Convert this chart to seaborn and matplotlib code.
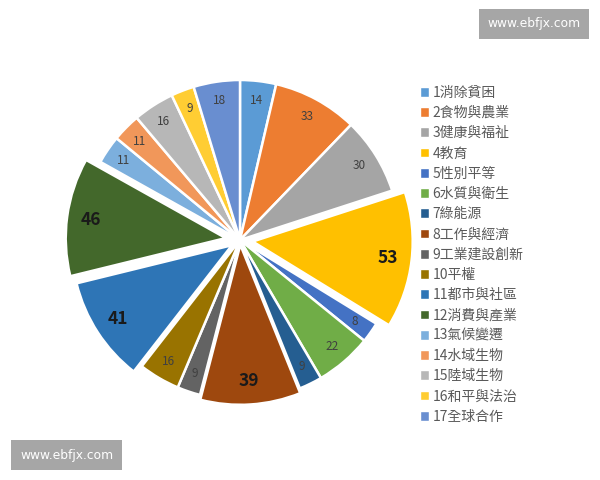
import numpy as np
import matplotlib
matplotlib.use("Agg")
import matplotlib.pyplot as plt
import seaborn as sns
from matplotlib.patches import Patch

# SDG goals and counts
goals = ["1消除貧困", "2食物與農業", "3健康與福祉", "4教育", "5性別平等",
         "6水質與衛生", "7綠能源", "8工作與經濟", "9工業建設創新", "10平權",
         "11都市與社區", "12消費與產業", "13氣候變遷", "14水域生物",
         "15陸域生物", "16和平與法治", "17全球合作"]
counts = [14, 33, 30, 53, 8, 22, 9, 39, 9, 16, 41, 46, 11, 11, 16, 9, 18]
colors = ["#5B9BD5", "#ED7D31", "#A5A5A5", "#FFC000", "#4472C4", "#70AD47",
          "#255E91", "#9E480E", "#636363", "#997300", "#2E75B6", "#43682B",
          "#7CAFDD", "#F1975A", "#B7B7B7", "#FFCD33", "#698ED0"]
explode = [0, 0, 0, 0.08, 0, 0, 0, 0.03, 0, 0, 0.06, 0.09, 0, 0, 0, 0, 0]
big = {3, 7, 10, 11}

sns.set_theme(style="white")
plt.rcParams["font.family"] = ["Noto Sans CJK TC", "DejaVu Sans"]

fig = plt.figure(figsize=(6, 4.8), dpi=100)
ax = fig.add_axes([0.1, 0.125, 0.6, 0.75])
wedges, _ = ax.pie(counts, colors=colors, startangle=90, counterclock=False,
                   explode=explode, radius=1,
                   wedgeprops=dict(edgecolor="white", linewidth=1.8))
ax.set_xlim(-1.125, 1.125)
ax.set_ylim(-1.125, 1.125)
ax.set_aspect("equal")
ax.axis("off")

# value labels near the outer edge
for i, w in enumerate(wedges):
    ang = np.deg2rad((w.theta1 + w.theta2) / 2)
    cx, cy = w.center
    r = 0.88 if i not in big else 0.85
    x = cx + r * np.cos(ang)
    y = cy + r * np.sin(ang)
    if i in big:
        ax.text(x, y, str(counts[i]), ha="center", va="center",
                fontsize=12.5, color="#1a1a1a", fontweight="bold")
    else:
        ax.text(x, y, str(counts[i]), ha="center", va="center",
                fontsize=8.5, color="#404040")

handles = [Patch(facecolor=c, edgecolor="white") for c in colors]
fig.legend(handles, goals, loc="upper left", bbox_to_anchor=(0.69, 0.833),
           frameon=False, fontsize=10, labelcolor="#595959",
           handlelength=0.7, handleheight=0.7, handletextpad=0.25,
           labelspacing=0.45, borderaxespad=0)

# watermark boxes
fig.text(0.89, 0.95, "www.ebfjx.com", ha="center", va="center",
         fontsize=8.8, color="white", family="DejaVu Sans",
         bbox=dict(boxstyle="square,pad=0.7", facecolor="#A6A6A6", edgecolor="none"))
fig.text(0.111, 0.052, "www.ebfjx.com", ha="center", va="center",
         fontsize=8.8, color="white", family="DejaVu Sans",
         bbox=dict(boxstyle="square,pad=0.7", facecolor="#A6A6A6", edgecolor="none"))

fig.savefig("out.png", dpi=100)
